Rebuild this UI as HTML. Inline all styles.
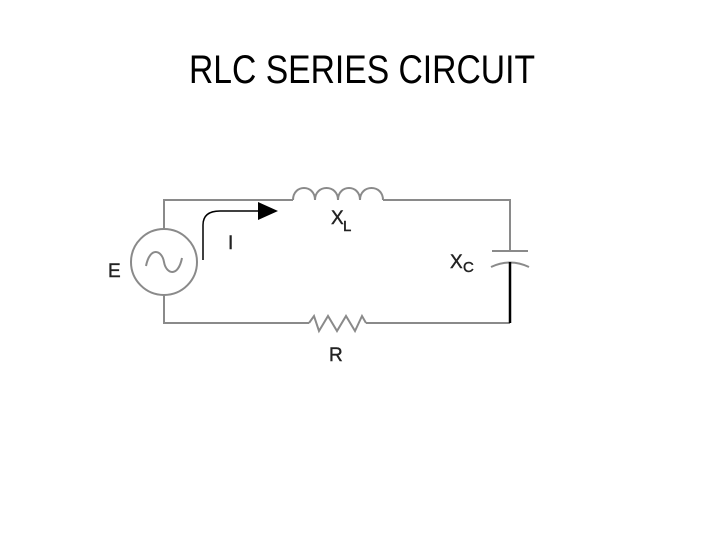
<!DOCTYPE html>
<html><head><style>body{margin:0;background:#fff}svg{display:block}</style></head>
<body>
<svg width="720" height="540" viewBox="0 0 720 540" xmlns="http://www.w3.org/2000/svg">
<text x="189" y="83" font-family="Liberation Sans, sans-serif" font-size="40" textLength="346" lengthAdjust="spacingAndGlyphs" fill="#000">RLC SERIES CIRCUIT</text>
<g fill="none" stroke="#8a8a8a" stroke-width="2">
<path d="M164 229 V200 H293"/>
<path d="M383 200 H510 V251"/>
<path d="M164 295 V323 H309"/>
<path d="M366 323 H510"/>
<circle cx="164" cy="262" r="33"/>
<path d="M146 266 C150 246 162 250 164 262 C166 274 178 278 182 258"/>
<path d="M293 200 C293 184 315 184 315 200 C315 184 338 184 338 200 C338 184 360 184 360 200 C360 184 383 184 383 200"/>
<path d="M309 323 L314 316 L319 331 L328 316 L337 331 L346 316 L355 331 L362 316 L366 323"/>
<path d="M492 251 H528"/>
<path d="M491 267 Q510 258 529 267"/>
</g>
<path d="M510 262 V323" stroke="#000" stroke-width="2.5"/>
<path d="M203 260 V225 Q203 211 220 211 H260" fill="none" stroke="#000" stroke-width="1.5"/>
<path d="M258 202 L278 211 L258 220 Z" fill="#000"/>
<g font-family="Liberation Sans, sans-serif" font-size="19" fill="#222" stroke="#222" stroke-width="0.4">
<text x="108" y="277">E</text>
<text x="228" y="249">I</text>
<text x="331" y="224">X</text><text x="343" y="231" font-size="15">L</text>
<text x="450" y="268">X</text><text x="463" y="272" font-size="15">C</text>
<text x="329" y="361">R</text>
</g>
</svg>
</body></html>
